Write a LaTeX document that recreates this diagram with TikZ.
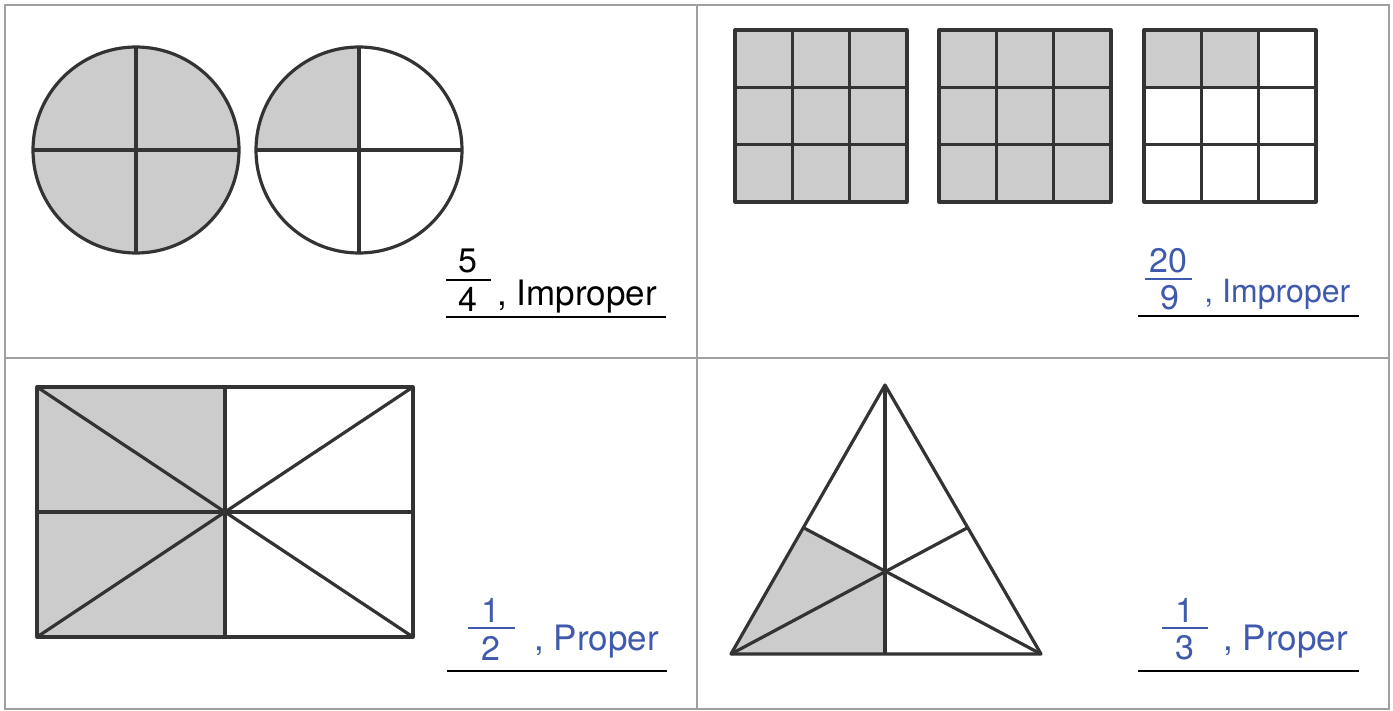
\documentclass[tikz,border=0pt]{standalone}
\usepackage{fontspec}
\setmainfont{TeX Gyre Heros}
\usepackage{tikz}
\usetikzlibrary{calc,positioning}
\definecolor{shadegray}{HTML}{CCCCCC}
\definecolor{inkgray}{HTML}{333333}
\definecolor{framegray}{HTML}{A0A0A0}
\definecolor{answerblue}{HTML}{3F59AD}

\begin{document}
\begin{tikzpicture}[x=0.5pt, y=-0.5pt,
  part/.style={draw=inkgray, line width=1.6pt, line join=round},
  shaded/.style={fill=shadegray},
  cellframe/.style={draw=framegray, line width=1.3pt},
  digit/.style={inner sep=0pt, font=\fontsize{17}{18}\selectfont},
  kind/.style={inner sep=0pt, anchor=base west, font=\fontsize{17.5}{18}\selectfont},
  fracbar/.style={line width=1pt},
  answerline/.style={draw=black, line width=1.3pt}
]
\useasboundingbox (0,0) rectangle (1393,711);

% cells
\draw[cellframe] (5,5) rectangle (1389,709);
\draw[cellframe] (697,5) -- (697,709);
\draw[cellframe] (5,358) -- (1389,358);

% circles, 5 quarters
\coordinate (c1) at (136,150);
\coordinate (c2) at (359,150);
\fill[shaded] (c1) circle[radius=103];
\fill[shaded] (c2) -- ++(180:103) arc[start angle=180, end angle=270, radius=103] -- cycle;
\foreach \c in {c1,c2}{
  \draw[part] (\c) circle[radius=103];
  \draw[part] ($(\c)+(-103,0)$) -- ($(\c)+(103,0)$);
  \draw[part] ($(\c)+(0,-103)$) -- ($(\c)+(0,103)$);
}

% grids, 20 ninths
\fill[shaded] (735,30) rectangle ++(172,172);
\fill[shaded] (939,30) rectangle ++(172,172);
\fill[shaded] (1144,30) rectangle ++(114.67,57.33);
\foreach \gx in {735,939,1144}{
  \draw[part] (\gx,30) rectangle ++(172,172);
  \foreach \i in {1,2}{
    \draw[part] (\gx+\i*57.33,30) -- ++(0,172);
    \draw[part] (\gx,30+\i*57.33) -- ++(172,0);
  }
}

% rectangle, one half
\fill[shaded] (37,387) rectangle (225,637);
\draw[part] (37,387) rectangle (413,637);
\draw[part] (225,387) -- (225,637);
\draw[part] (37,512) -- (413,512);
\draw[part] (37,387) -- (413,637);
\draw[part] (37,637) -- (413,387);

% triangle, one third
\coordinate (tA) at (885,385);
\coordinate (tB) at (731,654);
\coordinate (tC) at (1041,654);
\coordinate (tO) at (885,571);
\coordinate (tP) at (804,528);
\coordinate (tQ) at (967,528);
\coordinate (tM) at (885,654);
\fill[shaded] (tB) -- (tP) -- (tO) -- (tM) -- cycle;
\draw[part] (tA) -- (tB) -- (tC) -- cycle;
\draw[part] (tA) -- (tM);
\draw[part] (tB) -- (tQ);
\draw[part] (tC) -- (tP);

% answers
\node[digit] (numA) at (468,261) {5};
\node[digit] (denA) at (468,299) {4};
\draw[fracbar] (446,280) -- (491,280);
\node[kind] (kindA) at (497,306) {, Improper};
\draw[answerline] (446,317) -- (666,317);

\node[digit, text=answerblue] (numB) at (1168,261) {20};
\node[digit, text=answerblue] (denB) at (1170,298) {9};
\draw[fracbar, answerblue] (1145,279) -- (1192,279);
\node[kind, text=answerblue, font=\fontsize{16}{17}\selectfont] (kindB) at (1204,303) {, Improper};
\draw[answerline] (1138,316) -- (1359,316);

\node[digit, text=answerblue] (numC) at (491,610) {1};
\node[digit, text=answerblue] (denC) at (491,648) {2};
\draw[fracbar, answerblue] (468,628) -- (515,628);
\node[kind, text=answerblue] (kindC) at (534,650) {, Proper};
\draw[answerline] (447,671) -- (667,671);

\node[digit, text=answerblue] (numD) at (1185,610) {1};
\node[digit, text=answerblue] (denD) at (1185,648) {3};
\draw[fracbar, answerblue] (1162,628) -- (1208,628);
\node[kind, text=answerblue] (kindD) at (1223,650) {, Proper};
\draw[answerline] (1138,671) -- (1359,671);
\end{tikzpicture}
\end{document}
